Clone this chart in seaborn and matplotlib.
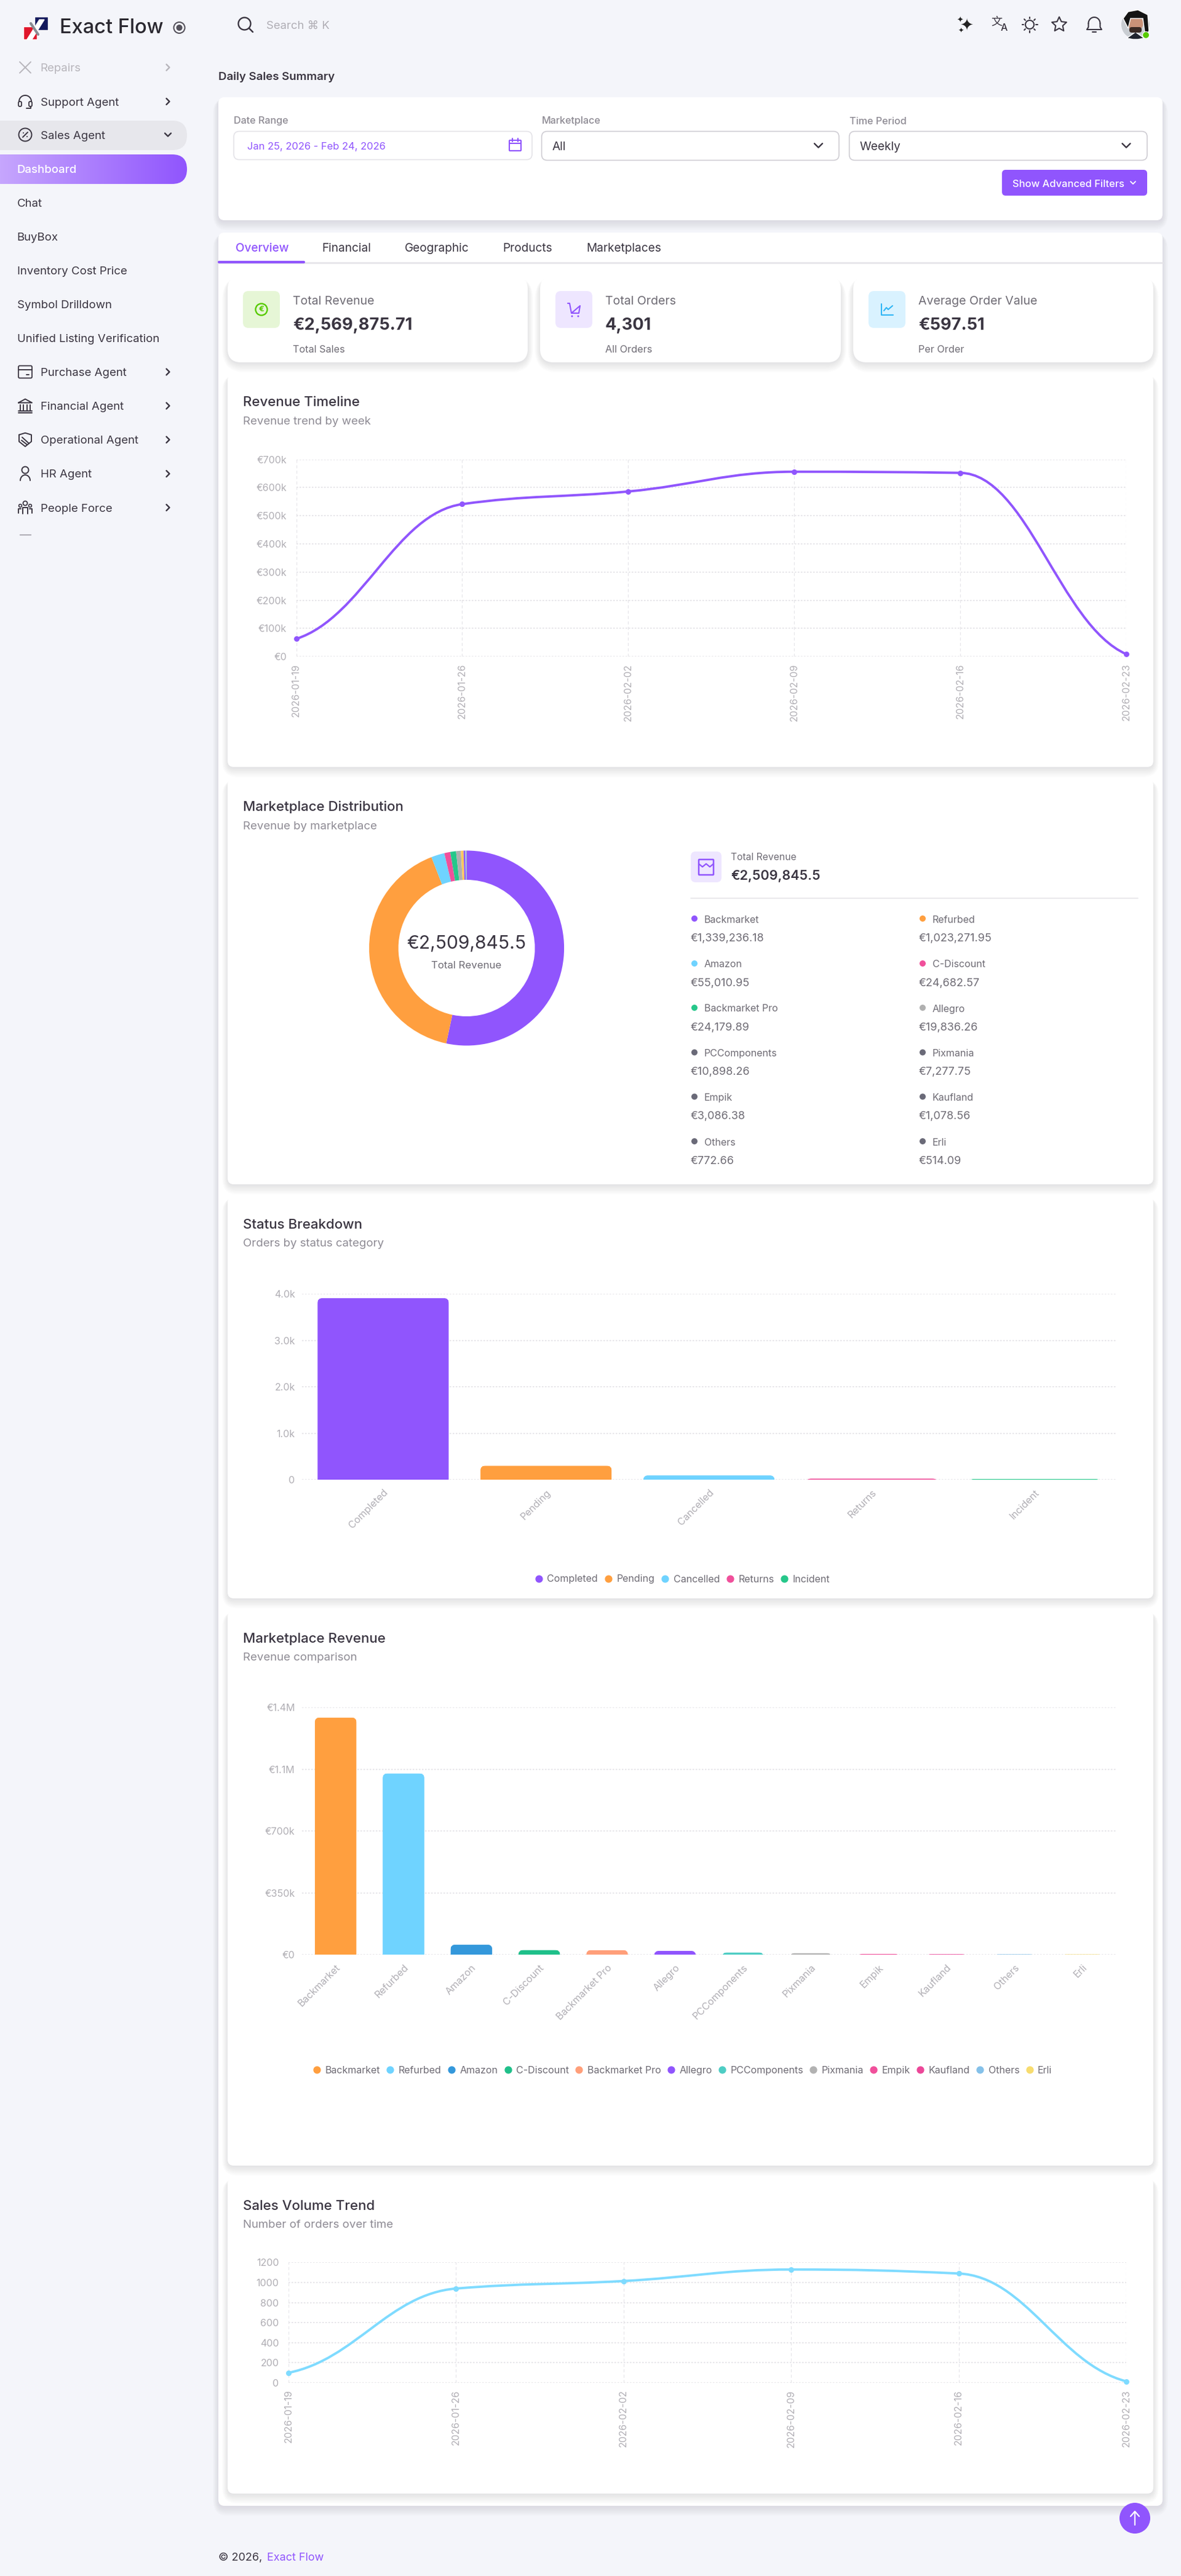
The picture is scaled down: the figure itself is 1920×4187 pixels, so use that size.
import numpy as np
import pandas as pd
import matplotlib
matplotlib.use("Agg")
import matplotlib.pyplot as plt
import seaborn as sns
from matplotlib.patches import FancyBboxPatch, Circle, PathPatch, Polygon, Rectangle
from matplotlib.path import Path
from matplotlib.lines import Line2D
from matplotlib.transforms import IdentityTransform

# ---------- data ----------
week_labels = ["2026-01-19", "2026-01-26", "2026-02-02", "2026-02-09", "2026-02-16", "2026-02-23"]
weekly_revenue = [63000, 541000, 586000, 656000, 652000, 9000]
revenue_ticks = [0, 100000, 200000, 300000, 400000, 500000, 600000, 700000]
revenue_tick_labels = ["€0", "€100k", "€200k", "€300k", "€400k", "€500k", "€600k", "€700k"]

weekly_orders = [100, 940, 1015, 1130, 1090, 15]
orders_ticks = [0, 200, 400, 600, 800, 1000, 1200]

marketplaces = ["Backmarket", "Refurbed", "Amazon", "C-Discount", "Backmarket Pro", "Allegro",
                "PCComponents", "Pixmania", "Empik", "Kaufland", "Others", "Erli"]
marketplace_values = [1339236.18, 1023271.95, 55010.95, 24682.57, 24179.89, 19836.26,
                      10898.26, 7277.75, 3086.38, 1078.56, 772.66, 514.09]
marketplace_value_labels = ["€1,339,236.18", "€1,023,271.95", "€55,010.95", "€24,682.57", "€24,179.89",
                            "€19,836.26", "€10,898.26", "€7,277.75", "€3,086.38", "€1,078.56", "€772.66", "€514.09"]
donut_colors = ["#9055FD", "#FF9F3F", "#6FD3FF", "#F0509B", "#26C78A", "#B0B0B0",
                "#6A6A78", "#6A6A78", "#6A6A78", "#6A6A78", "#6A6A78", "#6A6A78"]
donut_slice_colors = ["#9055FD", "#FF9F3F", "#6FD3FF", "#F0509B", "#26C78A", "#B0B0B0",
                      "#FFC85C", "#9055FD", "#6FD3FF", "#F0509B", "#26C78A", "#B0B0B0"]
bar_market_colors = ["#FF9F3F", "#6FD3FF", "#3498DB", "#20C08A", "#FF9F7A", "#9055FD",
                     "#4ECDC4", "#B2B2B2", "#F0509B", "#EC4899", "#85C1E9", "#F7DC6F"]
market_ticks = [0, 350000, 700000, 1050000, 1400000]
market_tick_labels = ["€0", "€350k", "€700k", "€1.1M", "€1.4M"]

status_names = ["Completed", "Pending", "Cancelled", "Returns", "Incident"]
status_counts = [3897, 293, 86, 17, 8]
status_colors = ["#9055FD", "#FF9F3F", "#6FD3FF", "#F0509B", "#26C78A"]
status_ticks = [0, 1000, 2000, 3000, 4000]
status_tick_labels = ["0", "1.0k", "2.0k", "3.0k", "4.0k"]

sidebar_items = [("Repairs", "tools"), ("Support Agent", "head"), ("Sales Agent", "badge"),
                 ("Dashboard", None), ("Chat", None), ("BuyBox", None), ("Inventory Cost Price", None),
                 ("Symbol Drilldown", None), ("Unified Listing Verification", None),
                 ("Purchase Agent", "box"), ("Financial Agent", "bank"), ("Operational Agent", "shake"),
                 ("HR Agent", "user"), ("People Force", "people")]

kpi_titles = ["Total Revenue", "Total Orders", "Average Order Value"]
kpi_values = ["€2,569,875.71", "4,301", "€597.51"]
kpi_subs = ["Total Sales", "All Orders", "Per Order"]
tab_names = ["Overview", "Financial", "Geographic", "Products", "Marketplaces"]

# ---------- theme ----------
W, H = 1920, 4187
PURPLE, INK, MUTED, TICK = "#9055FD", "#3A3541", "#8E8B94", "#B0AEB4"
BG = "#F4F5FA"
sns.set_theme(style="white")
plt.rcParams["font.family"] = ["Inter", "DejaVu Sans"]
plt.rcParams["axes.unicode_minus"] = False

fig = plt.figure(figsize=(W / 100, H / 100), dpi=100, facecolor=BG)
bg = fig.add_axes([0, 0, 1, 1], zorder=0)
bg.set_xlim(0, W); bg.set_ylim(H, 0); bg.axis("off")


def px(v):
    return v * 0.72


def T(x, y, s, size=16, color=INK, weight="normal", ha="left", va="center", **kw):
    # page text sits about 2px lower than matplotlib's centred box
    return bg.text(x, y + 2, s, fontsize=px(size), color=color, fontweight=weight, ha=ha, va=va, **kw)


def rrect(x0, y0, x1, y1, r, fc="white", ec="none", lw=0, z=1, **kw):
    p = FancyBboxPatch((x0, y0), x1 - x0, y1 - y0, boxstyle=f"round,pad=0,rounding_size={r}",
                       fc=fc, ec=ec, lw=lw, zorder=z, **kw)
    bg.add_patch(p)
    return p


def card(x0, y0, x1, y1, r=10, z=1, strength=0.011):
    for i in range(9):
        g = i * 1.8
        rrect(x0 - g * .6, y0 - g * .2 + 4, x1 + g * .6, y1 + g + 2, r + g, fc="#3A3541", z=z,
              alpha=strength)
    rrect(x0, y0, x1, y1, r, z=z + .1)


def line(xs, ys, c=INK, lw=1.4, z=5, **kw):
    bg.plot(xs, ys, color=c, lw=lw, zorder=z, solid_capstyle="round", solid_joinstyle="round", **kw)


def chevron(x, y, c=INK, s=5, d="right", lw=1.7):
    if d == "right":
        line([x - s * .5, x + s * .5, x - s * .5], [y - s, y, y + s], c, lw)
    else:
        line([x - s, x, x + s], [y - s * .5, y + s * .5, y - s * .5], c, lw)


def circ(x, y, r, fc="none", ec="none", lw=0, z=5):
    bg.add_patch(Circle((x, y), r, fc=fc, ec=ec, lw=lw, zorder=z))


def rbox(x0, y0, x1, y1, c=INK, lw=1.3, r=2, z=5):
    rrect(x0, y0, x1, y1, r, fc="none", ec=c, lw=lw, z=z)


def icon(kind, x, y, c=INK):
    if kind == "tools":
        line([x - 9, x + 9], [y - 9, y + 9], c); line([x + 9, x - 9], [y - 9, y + 9], c)
    elif kind == "head":
        t = np.linspace(np.pi, 2 * np.pi, 30)
        line(x + 10 * np.cos(t), y + 10 * np.sin(t), c)
        rbox(x - 11, y, x - 6, y + 8, c); rbox(x + 6, y, x + 11, y + 8, c)
        line([x + 9, x + 9, x + 2], [y + 8, y + 11, y + 11], c)
    elif kind == "badge":
        circ(x, y, 10.5, ec=c, lw=1.4)
        line([x - 4, x + 4], [y + 4, y - 4], c); circ(x - 3, y - 3, 1, fc=c); circ(x + 3, y + 3, 1, fc=c)
    elif kind == "box":
        rbox(x - 11, y - 10, x + 11, y + 10, c); line([x - 11, x + 11], [y - 4, y - 4], c)
        line([x + 2, x + 6], [y + 4, y + 4], c)
    elif kind == "bank":
        line([x - 11, x, x + 11, x - 11], [y - 5, y - 11, y - 5, y - 5], c)
        for d in (-8, -3, 3, 8):
            line([x + d, x + d], [y - 2, y + 7], c)
        line([x - 11, x + 11], [y + 8, y + 8], c); line([x - 11, x + 11], [y + 11, y + 11], c)
    elif kind == "shake":
        line([x - 10, x, x + 10, x + 10, x, x - 10, x - 10], [y - 8, y - 11, y - 8, y + 3, y + 11, y + 3, y - 8], c)
        line([x - 5, x + 6], [y - 4, y + 6], c); line([x - 6, x + 3], [y + 1, y + 8], c)
    elif kind == "user":
        circ(x, y - 6, 5.5, ec=c, lw=1.4)
        t = np.linspace(np.pi, 2 * np.pi, 20)
        line(x + 8 * np.cos(t), y + 11 + 9 * np.sin(t), c)
    elif kind == "people":
        circ(x, y - 7, 3.5, ec=c, lw=1.3); circ(x - 8, y - 3, 2.4, ec=c, lw=1.2); circ(x + 8, y - 3, 2.4, ec=c, lw=1.2)
        line([x - 4, x - 4, x + 4, x + 4], [y + 10, y, y, y + 10], c)
        line([x - 11, x - 11, x - 7], [y + 9, y + 2, y + 2], c); line([x + 11, x + 11, x + 7], [y + 9, y + 2, y + 2], c)


# ---------- sidebar ----------
bg.add_patch(Polygon([[38, 43], [60, 43], [60, 64], [38, 64]], fc="#E0162B", zorder=3))
bg.add_patch(Polygon([[56, 27], [78, 27], [78, 49], [56, 49]], fc="#14195C", zorder=3))
bg.add_patch(Polygon([[44, 64], [52, 64], [72, 32], [64, 32]], fc="white", zorder=4))
line([50, 62], [38, 56], "#8A8D93", 3, z=4)
T(97, 44, "Exact Flow", 32.5, "#2A2830", weight="medium")
circ(291.5, 45, 9, ec="#55525C", lw=1.5); circ(291.5, 45, 5, fc="#55525C")

item_y = [109.6, 165, 219, 274.4, 329.5, 384.6, 439.7, 494.8, 550, 604.5, 659.6, 714.7, 770, 825]
rrect(-40, 196, 304, 244, 24, fc="#E7E7EC", z=1)
pill = rrect(-40, 251, 304, 299, 24, fc="none", z=1)
grad = np.linspace(0, 1, 256).reshape(1, -1)
cm = matplotlib.colors.LinearSegmentedColormap.from_list("g", ["#C6A6FE", PURPLE])
im = bg.imshow(grad, extent=(0, 304, 299, 251), cmap=cm, aspect="auto", zorder=1.5)
im.set_clip_path(pill)
bg.set_xlim(0, W); bg.set_ylim(H, 0)
for (name, ic), y in zip(sidebar_items, item_y):
    if ic is None:
        col = "white" if name == "Dashboard" else INK
        T(27.6, y, name, 18.6, col, weight="medium" if name == "Dashboard" else "normal")
    else:
        col = "#B7B5BB" if name == "Repairs" else INK
        T(65.5, y, name, 18.6, col)
        icon(ic, 41, y, col)
        chevron(273, y, col, d="down" if name == "Sales Agent" else "right")
line([32, 50], [868.5, 868.5], "#8E8B94", 1)

# ---------- top bar ----------
circ(397.5, 38.5, 10, ec=INK, lw=1.7); line([405, 411], [46, 52], INK, 1.8)
T(433, 40, "Search ⌘ K", 18.5, "#B0AEB5")
bg.text(1572, 42, "✦", fontsize=19, color="#222", ha="center", va="center", family="DejaVu Sans", zorder=6)
bg.text(1561, 33, "✦", fontsize=9, color="#222", ha="center", va="center", family="DejaVu Sans", zorder=6)
bg.text(1562, 50, "✦", fontsize=8, color="#222", ha="center", va="center", family="DejaVu Sans", zorder=6)
bg.text(1620, 36, "文", fontsize=13, color=INK, ha="center", va="center", family="Noto Sans CJK SC", zorder=6)
T(1632, 44, "A", 16, INK, ha="center", weight="medium")
circ(1674, 40, 7, ec=INK, lw=1.5)
for a in np.arange(0, 2 * np.pi, np.pi / 4):
    line([1674 + 10 * np.cos(a), 1674 + 12.5 * np.cos(a)], [40 + 10 * np.sin(a), 40 + 12.5 * np.sin(a)], INK, 1.5)
star = [(1722 + (12.5 if i % 2 == 0 else 6) * np.sin(i * np.pi / 5), 40 - (12.5 if i % 2 == 0 else 6) * np.cos(i * np.pi / 5)) for i in range(10)]
bg.add_patch(Polygon(star, fc="none", ec=INK, lw=1.5, zorder=5, joinstyle="round"))
t = np.linspace(np.pi, 2 * np.pi, 20)
line(1779 + 9.5 * np.cos(t), 38 + 10 * np.sin(t), INK, 1.5)
line([1769.5, 1769.5, 1767, 1791, 1788.5, 1788.5], [38, 44, 48, 48, 44, 38], INK, 1.5)
line([1776, 1782], [52, 52], INK, 1.5)
circ(1846, 40, 23, fc="#C9CDD2")
bg.add_patch(Polygon([[1826, 30], [1834, 19], [1850, 16], [1866, 24], [1868, 50], [1862, 60], [1858, 30], [1838, 30], [1834, 46]], fc="#141414", zorder=6))
circ(1846, 38, 12.5, fc="#C99278", z=5.5)
bg.add_patch(Polygon([[1832, 62], [1846, 52], [1860, 62], [1850, 64], [1842, 64]], fc="#20242E", zorder=6))
rrect(1836, 44, 1856, 53, 4, fc="#3A2A24", z=6)
circ(1863, 57, 5.5, fc="#56CA00", ec="white", lw=0.8, z=7)

# ---------- filter panel ----------
T(355, 123.4, "Daily Sales Summary", 18.6, INK, weight="semibold")
card(355, 158, 1890, 358, 10)
T(380, 195, "Date Range", 16.2, MUTED, weight="medium")
T(880.6, 195, "Marketplace", 16.2, MUTED, weight="medium")
T(1380.7, 195, "Time Period", 16.2, MUTED, weight="medium")
rrect(380, 213.5, 865, 259.5, 9, fc="white", ec="#E4E3E8", lw=1.2, z=2)
T(401.7, 236.5, "Jan 25, 2026 - Feb 24, 2026", 16.5, PURPLE)
rbox(828, 228, 847, 245, PURPLE, 1.5, 1); line([828, 847], [233, 233], PURPLE, 1.5)
line([833, 833], [225, 230], PURPLE, 1.5); line([842, 842], [225, 230], PURPLE, 1.5)
rrect(880.6, 213.5, 1364, 260.5, 9, fc="white", ec="#CFCDD3", lw=1.2, z=2)
T(898, 236.5, "All", 19, INK); chevron(1330.5, 236.5, INK, 6.5, "down")
rrect(1380.7, 213.5, 1865, 260.5, 9, fc="white", ec="#CFCDD3", lw=1.2, z=2)
T(1398, 236.5, "Weekly", 19, INK); chevron(1831, 236.5, INK, 6.5, "down")
rrect(1629, 276, 1865, 318, 6, fc=PURPLE, z=2)
T(1646.5, 297, "Show Advanced Filters", 16.5, "white", weight="medium")
chevron(1842, 297, "white", 4, "down", 1.3)

# ---------- tab shell ----------
card(355, 378, 1890, 4073, 10)
for name, x in zip(tab_names, [382.7, 523, 657.7, 817.5, 953]):
    T(x, 402, name, 19, PURPLE if name == "Overview" else INK, weight="medium" if name == "Overview" else "normal")
line([355, 1890], [426.5, 426.5], "#E6E5E9", 2, z=3)
line([356, 494], [425.5, 425.5], PURPLE, 3, z=4)

# ---------- KPI cards ----------
kpi_x = [(370, 858, 395, 476), (878, 1367, 903, 984), (1387, 1875, 1412, 1493)]
kpi_fill = ["#E6F6D6", "#EEE6FF", "#D9F2FF"]
kpi_ink = ["#56CA00", PURPLE, "#2FB5F5"]
for i, (x0, x1, ix, tx) in enumerate(kpi_x):
    card(x0, 448, x1, 589, 22, z=3, strength=0.012)
    rrect(ix, 473, ix + 60, 533, 9, fc=kpi_fill[i], z=4)
    T(tx, 488, kpi_titles[i], 19.5, "#6E6B74", zorder=6)
    T(tx, 527.5, kpi_values[i], 27.2, INK, weight="bold", zorder=6)
    T(tx, 566.6, kpi_subs[i], 16.2, "#6E6B74", zorder=6)
    cx, cy = ix + 30, 503
    if i == 0:
        circ(cx, cy, 9.5, ec=kpi_ink[i], lw=1.7, z=6)
        T(cx, cy - 2, "€", 13, kpi_ink[i], ha="center", weight="bold", zorder=7)
    elif i == 1:
        line([cx - 10, cx - 7, cx - 4, cx + 10, cx + 8, cx - 3], [cy - 10, cy - 10, cy + 6, cy - 6, cy + 6, cy + 6], kpi_ink[i], 1.5, z=6)
        circ(cx - 3, cy + 11, 1.5, fc=kpi_ink[i], z=6); circ(cx + 7, cy + 11, 1.5, fc=kpi_ink[i], z=6)
    else:
        line([cx - 9, cx - 9, cx + 10], [cy - 9, cy + 9, cy + 9], kpi_ink[i], 1.5, z=6)
        line([cx - 5, cx - 1, cx + 2, cx + 9], [cy + 2, cy - 3, cy, cy - 6], kpi_ink[i], 1.5, z=6)

# ---------- chart cards ----------
panels = [(608.5, 1246.6, "Revenue Timeline", "Revenue trend by week"),
          (1266.5, 1925, "Marketplace Distribution", "Revenue by marketplace"),
          (1945, 2598, "Status Breakdown", "Orders by status category"),
          (2618, 3520, "Marketplace Revenue", "Revenue comparison"),
          (3540, 4053, "Sales Volume Trend", "Number of orders over time")]
for y0, y1, title, sub in panels:
    card(370, y0, 1875, y1, 10, z=3, strength=0.012)
    T(395, y0 + 43.7, title, 22.3, INK, weight="medium", zorder=6)
    T(395, y0 + 74.5, sub, 18.6, MUTED, zorder=6)


def axes_px(x0, y0, x1, y1):
    a = fig.add_axes([x0 / W, 1 - y1 / H, (x1 - x0) / W, (y1 - y0) / H], zorder=5)
    a.patch.set_alpha(0)
    return a


def smooth_path(values):
    """Bezier path through the data points, for the chart library's smooth-line look."""
    ys = np.asarray(values, float)
    d = np.diff(ys)
    m = np.zeros_like(ys)
    for i in range(1, len(ys) - 1):
        m[i] = 0 if d[i - 1] * d[i] <= 0 else 2 * d[i - 1] * d[i] / (d[i - 1] + d[i])
    m[0], m[-1] = 0.4 * d[0], 0.4 * d[-1]
    f = 0.4
    v, c = [(0, ys[0])], [Path.MOVETO]
    for i in range(len(d)):
        v += [(i + f, ys[i] + m[i] * f), (i + 1 - f, ys[i + 1] - m[i + 1] * f), (i + 1, ys[i + 1])]
        c += [Path.CURVE4] * 3
    return Path(v, c)


def line_chart(box, values, ticks, labels, color):
    a = axes_px(*box)
    df = pd.DataFrame({"week": week_labels, "value": values})
    sns.scatterplot(data=df, x="week", y="value", color=color, s=42, linewidth=0, zorder=6, clip_on=False, ax=a)
    a.add_patch(PathPatch(smooth_path(values), fc="none", ec=color, lw=2.8, zorder=5, clip_on=False))
    a.set_xlim(0, len(values) - 1)
    a.set_ylim(ticks[0], ticks[-1])
    a.set_yticks(ticks, labels)
    a.set_xlabel(""); a.set_ylabel("")
    a.grid(axis="y", color="#E3E2E6", ls=(0, (1.5, 1.5)), lw=1.2)
    a.grid(axis="x", color="#E7E6EA", ls=(0, (4, 3)), lw=0.9)
    a.set_axisbelow(True)
    sns.despine(ax=a, left=True, bottom=True)
    a.tick_params(axis="y", length=0, pad=px(15.5), labelsize=px(16), labelcolor=TICK)
    a.tick_params(axis="x", length=0, pad=px(11), labelsize=px(15.8), labelcolor=TICK, labelrotation=90)
    for s in a.get_xticklabels():
        s.set_ha("center"); s.set_va("top")
    return a


line_chart((481.6, 746.6, 1831, 1067.3), weekly_revenue, revenue_ticks, revenue_tick_labels, PURPLE)
line_chart((469, 3677.4, 1831, 3873), weekly_orders, orders_ticks, [str(v) for v in orders_ticks], "#7FDBFF")


def bar_chart(box, names, values, colors, width, ticks, labels):
    a = axes_px(*box)
    df = pd.DataFrame({"name": names, "value": values})
    sns.barplot(data=df, x="name", y="value", hue="name", palette=colors, dodge=False, legend=False,
                width=width, saturation=1, ax=a, zorder=3)
    a.set_xlim(-0.5, len(names) - 0.5)
    a.set_ylim(ticks[0], ticks[-1])
    a.set_yticks(ticks, labels)
    a.set_xlabel(""); a.set_ylabel("")
    a.grid(axis="y", color="#E3E2E6", ls=(0, (1.5, 1.5)), lw=1.2)
    a.grid(axis="x", visible=False)
    a.set_axisbelow(True)
    sns.despine(ax=a, left=True, bottom=True)
    a.tick_params(axis="y", length=0, pad=px(11), labelsize=px(16), labelcolor=TICK)
    a.tick_params(axis="x", length=0, pad=px(13), labelsize=px(16), labelcolor=TICK)
    for s in a.get_xticklabels():
        s.set_rotation(45); s.set_ha("right"); s.set_va("top"); s.set_rotation_mode("anchor")
    # rounded top corners, as on the page; a thin stroke keeps the tiny bars visible
    for b in a.patches:
        b.set_snap(False)
        b.set_edgecolor(b.get_facecolor())
        b.set_linewidth(1.0)
        (x0, y0), (x1, y1) = a.transData.transform(b.get_bbox().get_points())
        clip = FancyBboxPatch((x0 - 1, y0 - 20), x1 - x0 + 2, y1 - y0 + 21, boxstyle="round,pad=0,rounding_size=9",
                              transform=IdentityTransform())
        b.set_clip_path(clip)
    return a


def dot_legend(names, colors, cx, cy, spacing):
    hs = [Line2D([], [], ls="", marker="o", ms=px(10.8), color=c, label=n) for n, c in zip(names, colors)]
    fig.legend(handles=hs, loc="center", bbox_to_anchor=(cx / W, 1 - cy / H), ncol=len(names), frameon=False,
               fontsize=px(16), labelcolor="#6E6B74", handlelength=0.68, handletextpad=0.5,
               columnspacing=spacing, borderpad=0, borderaxespad=0)


bar_chart((490.5, 2103, 1814.6, 2405.3), status_names, status_counts, status_colors, 0.8, status_ticks, status_tick_labels)
dot_legend(status_names, status_colors, 1110, 2567, 0.72)
bar_chart((490.5, 2775, 1814.6, 3177.4), marketplaces, marketplace_values, bar_market_colors, 0.6, market_ticks, market_tick_labels)
dot_legend(marketplaces, bar_market_colors, 1110, 3365.5, 0.68)

# ---------- donut ----------
R = 158.5
da = fig.add_axes([(758.6 - R) / W, 1 - (1541 + R) / H, 2 * R / W, 2 * R / H], zorder=5)
da.pie(marketplace_values, colors=donut_slice_colors, startangle=90, counterclock=False, radius=1,
       wedgeprops=dict(width=0.3, lw=0))
da.set_xlim(-1, 1); da.set_ylim(-1, 1)
T(758.6, 1532, "€2,509,845.5", 30, INK, ha="center", zorder=6)
T(758.6, 1567, "Total Revenue", 16.8, "#6E6B74", ha="center", zorder=6)

rrect(1123, 1384, 1173, 1434, 8, fc="#EEE6FF", z=4)
rbox(1136, 1397, 1160, 1422, PURPLE, 1.8, 1); line([1136, 1142, 1148, 1154, 1160], [1404, 1409, 1404, 1409, 1404], PURPLE, 1.6, z=6)
T(1188, 1391, "Total Revenue", 15.7, "#6E6B74", zorder=6)
T(1188, 1422, "€2,509,845.5", 21.5, INK, weight="semibold", zorder=6)
line([1123, 1850], [1459.5, 1459.5], "#E6E5E9", 1.2, z=6)
rows_label = [1493, 1566, 1638, 1710.5, 1782.5, 1855]
rows_value = [1523.7, 1596.5, 1668.5, 1741, 1813, 1886]
for i, (n, vl, c) in enumerate(zip(marketplaces, marketplace_value_labels, donut_colors)):
    r, col = i // 2, i % 2
    xv = 1123 if col == 0 else 1494
    circ(xv + 6, rows_label[r], 5, fc=c, z=6)
    T(xv + 22, rows_label[r], n, 16, "#6E6B74", zorder=6)
    T(xv, rows_value[r], vl, 18, "#6E6B74", zorder=6)

# ---------- footer ----------
circ(1845, 4093, 25, fc=PURPLE, z=8)
line([1845, 1845], [4104, 4083], "white", 1.6, z=9); line([1838, 1845, 1852], [4090, 4082, 4090], "white", 1.6, z=9)
T(355, 4155.5, "© 2026,", 18, INK)
T(434, 4155.5, "Exact Flow", 18, PURPLE)

fig.savefig("out.png", dpi=100, facecolor=BG)
